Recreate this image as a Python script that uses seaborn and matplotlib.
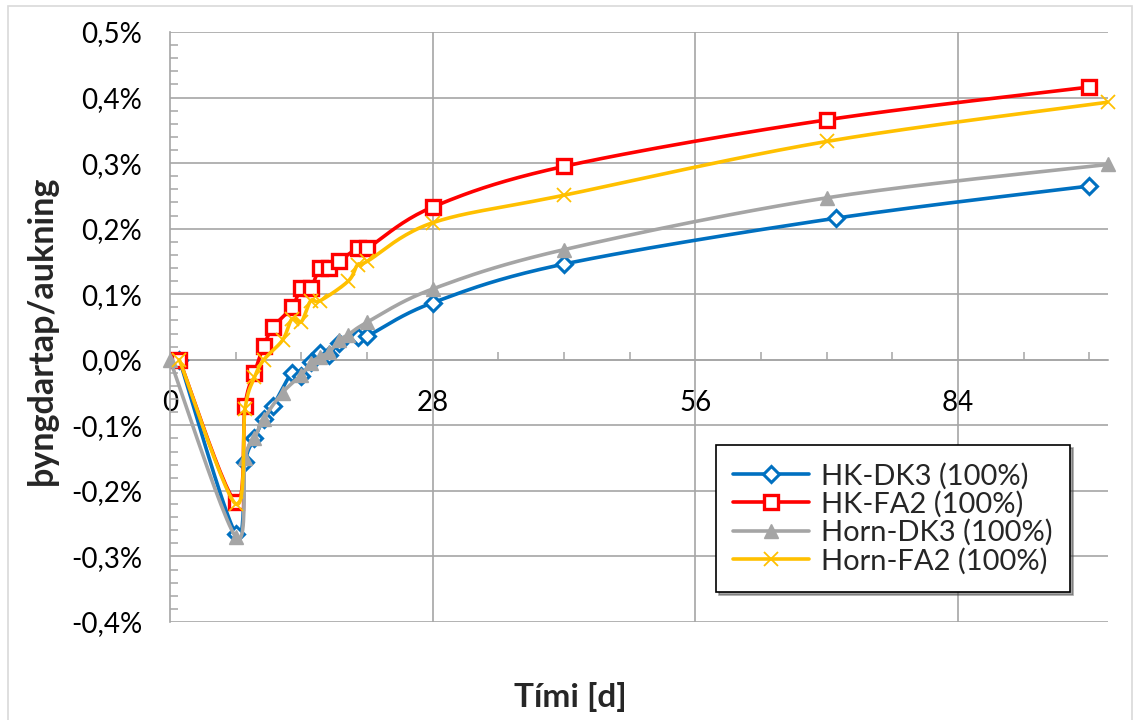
import numpy as np
import matplotlib
matplotlib.use("Agg")
import matplotlib.pyplot as plt
import seaborn as sns
from matplotlib.lines import Line2D
from matplotlib.ticker import FixedLocator, FuncFormatter
from matplotlib.patches import Rectangle

# ---- data (days, % mass change) ----
hk_dk3_days = [1, 7, 8, 9, 10, 11, 13, 14, 15, 16, 17, 18, 20, 21, 28, 42, 71, 98]
hk_dk3_vals = [0.0, -0.265, -0.156, -0.12, -0.09, -0.07, -0.02, -0.025, -0.003, 0.01, 0.008,
               0.026, 0.035, 0.036, 0.087, 0.146, 0.216, 0.265]

hk_fa2_days = [1, 7, 8, 9, 10, 11, 13, 14, 15, 16, 17, 18, 20, 21, 28, 42, 70, 98]
hk_fa2_vals = [0.0, -0.217, -0.07, -0.02, 0.021, 0.05, 0.08, 0.11, 0.11, 0.14, 0.14,
               0.15, 0.17, 0.17, 0.233, 0.295, 0.366, 0.416]

horn_dk3_days = [0, 7, 8, 9, 10, 12, 14, 15, 16, 17, 18, 19, 21, 28, 42, 70, 100]
horn_dk3_vals = [0.0, -0.27, -0.15, -0.12, -0.09, -0.05, -0.023, -0.005, 0.005, 0.012,
                 0.03, 0.038, 0.057, 0.108, 0.168, 0.247, 0.298]

horn_fa2_days = [1, 7, 8, 9, 10, 12, 13, 14, 15, 16, 19, 20, 21, 28, 42, 70, 100]
horn_fa2_vals = [0.0, -0.22, -0.075, -0.027, 0.0, 0.03, 0.062, 0.058, 0.09, 0.09,
                 0.12, 0.145, 0.15, 0.209, 0.251, 0.333, 0.393]

labels = ["HK-DK3 (100%)", "HK-FA2 (100%)", "Horn-DK3 (100%)", "Horn-FA2 (100%)"]
x_ticks = [0, 28, 56, 84]
y_ticks = [-0.4, -0.3, -0.2, -0.1, 0.0, 0.1, 0.2, 0.3, 0.4, 0.5]


def smooth(xs, ys, n=24):
    P = np.column_stack([np.asarray(xs, float), np.asarray(ys, float)])
    m = len(P)
    ext = np.vstack([P[0], P, P[-1]])
    out = []
    t = np.linspace(0, 1, n)[:, None]
    for i in range(m - 1):
        p0, p1 = ext[i + 1], ext[i + 2]
        c1 = p0 + (ext[i + 2] - ext[i]) / 6.0
        c2 = p1 - (ext[i + 3] - ext[i + 1]) / 6.0
        seg = ((1 - t) ** 3) * p0 + 3 * ((1 - t) ** 2) * t * c1 + 3 * (1 - t) * t ** 2 * c2 + t ** 3 * p1
        out.append(seg if i == 0 else seg[1:])
    S = np.vstack(out)
    return S[:, 0], S[:, 1]


sns.set_theme(style="white")
plt.rcParams["font.family"] = ["Lato", "DejaVu Sans"]

fig = plt.figure(figsize=(11.38, 7.2), dpi=100)
ax = fig.add_axes([170 / 1138, 1 - 622 / 720, 938 / 1138, 590 / 720])

grid_c = "#A6A6A6"
series = [
    (hk_dk3_days, hk_dk3_vals, "#0070C0", dict(marker="D", ms=8.5, mfc="white", mec="#0070C0", mew=2.2)),
    (hk_fa2_days, hk_fa2_vals, "#FF0000", dict(marker="s", ms=10, mfc="white", mec="#FF0000", mew=2.4)),
    (horn_dk3_days, horn_dk3_vals, "#A5A5A5", dict(marker="^", ms=10, mfc="#A5A5A5", mec="#A5A5A5", mew=1)),
    (horn_fa2_days, horn_fa2_vals, "#FFC000", dict(marker="x", ms=10, mfc="#FFC000", mec="#FFC000", mew=1.3)),
]

handles = []
for k, (xs, ys, col, mk) in enumerate(series):
    sx, sy = smooth(xs, ys)
    sns.lineplot(x=sx, y=sy, sort=False, estimator=None, color=col, lw=2.6, ax=ax, zorder=3 + k)
    ax.plot(xs, ys, ls="none", clip_on=False, zorder=3 + k + 0.5, **mk)
    handles.append(Line2D([0], [0], color=col, lw=2.6, **mk))

ax.set_xlim(0, 100)
ax.set_ylim(-0.4, 0.5)

# grid
for yv in y_ticks:
    ax.axhline(yv, color=grid_c, lw=1.2, zorder=1)
for xv in x_ticks[1:]:
    ax.axvline(xv, color=grid_c, lw=1.2, zorder=1)

for s in ["top", "right"]:
    ax.spines[s].set_visible(False)
ax.spines["bottom"].set_position(("data", 0))
ax.spines["left"].set_position(("data", 0))
for s in ["bottom", "left"]:
    ax.spines[s].set_color(grid_c)
    ax.spines[s].set_linewidth(1.2)
    ax.spines[s].set_zorder(2)

ax.xaxis.set_major_locator(FixedLocator(x_ticks))
ax.xaxis.set_minor_locator(FixedLocator(list(range(7, 100, 7))))
ax.yaxis.set_major_locator(FixedLocator(y_ticks))
ax.yaxis.set_minor_locator(FixedLocator([round(v, 2) for v in np.arange(-0.4, 0.5001, 0.02)]))
ax.yaxis.set_major_formatter(FuncFormatter(lambda v, p: f"{v:.1f}%".replace("-0.0", "0.0").replace(".", ",")))
ax.xaxis.set_major_formatter(FuncFormatter(lambda v, p: f"{int(round(v))}"))

ax.tick_params(axis="both", which="major", length=0, labelsize=20, colors="black")
ax.tick_params(axis="y", which="major", pad=20)
ax.tick_params(axis="x", which="major", pad=22)
ax.tick_params(axis="both", which="minor", direction="in", length=6, width=1.1, color=grid_c)
ax.xaxis.set_tick_params(which="minor", bottom=True)
ax.yaxis.set_tick_params(which="minor", left=True)

ax.set_xlabel("")
ax.set_ylabel("")
fig.text(570 / 1138, 1 - 697 / 720, "Tími [d]", fontsize=24, fontweight="bold", ha="center", va="center")
fig.text(42 / 1138, 1 - 330 / 720, "þyngdartap/aukning", fontsize=24.5, fontweight="bold",
         ha="center", va="center", rotation=90)

leg = ax.legend(handles, labels, loc="upper left", bbox_to_anchor=(0.582, 0.300), fontsize=21,
                frameon=True, fancybox=False, shadow=True, handlelength=2.6, borderpad=0.6,
                labelspacing=0.05, handletextpad=0.4, borderaxespad=0)
leg.get_frame().set_edgecolor("black")
leg.get_frame().set_linewidth(1.2)
leg.set_zorder(10)

fig.patches.append(Rectangle((8 / 1138, -0.01), 1124 / 1138, 1 - 6 / 720 + 0.01, transform=fig.transFigure,
                             fill=False, edgecolor="#D9D9D9", lw=1.2))

fig.savefig("out.png", dpi=100)
